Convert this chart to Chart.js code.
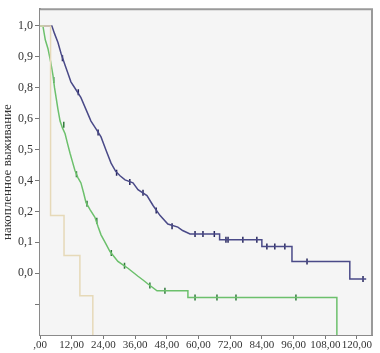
<!DOCTYPE html>
<html lang="ru">
<head>
    <meta charset="UTF-8">
    <title>Накопленное выживание</title>
    <script src="https://cdn.jsdelivr.net/npm/chart.js"></script>
    <style>
        html, body { margin: 0; padding: 0; background: #fff; }
    </style>
</head>
<body>
    <canvas id="survivalChart" width="380" height="353"></canvas>

    <script>
        // x axis: months; y values are positions on the (oddly labelled) axis, 0..1
        const xTicks = [0, 12, 24, 36, 48, 60, 72, 84, 96, 108, 120];
        const xTickLabels = [',00', '12,00', '24,00', '36,00', '48,00', '60,00', '72,00', '84,00', '96,00', '108,00', '120,00'];
        const yTicks = [0.1, 0.2, 0.3, 0.4, 0.5, 0.6, 0.7, 0.8, 0.9, 1.0];
        const yTickLabels = ['', '0,0', '0,1', '0,2', '0,4', '0,5', '0,6', '0,8', '0,9', '1,0'];

        // blue group (repeated times = vertical drop on the plateaus)
        const blueT = [0, 4.5, 5.5, 6.8, 8.0, 9.5, 10.6, 11.7, 13.5, 15.5, 17.4, 19.3, 21.2, 23.1, 25.0, 26.9, 28.6, 30.3, 32.2, 35.2, 37.1, 40.5, 42.8, 45.4, 48.4, 52.2, 54.0, 56.8, 68.0, 68.0, 84.0, 84.0, 95.4, 95.4, 117.3, 117.3, 123.5];
        const blueV = [1.0, 1.0, 0.975, 0.946, 0.91, 0.873, 0.846, 0.819, 0.795, 0.768, 0.73, 0.692, 0.667, 0.641, 0.598, 0.556, 0.53, 0.515, 0.502, 0.492, 0.47, 0.451, 0.419, 0.387, 0.359, 0.349, 0.338, 0.327, 0.327, 0.308, 0.308, 0.286, 0.286, 0.238, 0.238, 0.181, 0.181];
        const blueCensT = [8.5, 14.5, 22, 29, 34, 39, 44, 50, 58.7, 61.7, 66.0, 70.4, 71.2, 76.8, 82.1, 85.9, 88.9, 92.7, 101.1, 122.3];
        const blueCensV = [0.895, 0.785, 0.655, 0.525, 0.495, 0.46, 0.403, 0.352, 0.327, 0.327, 0.327, 0.308, 0.308, 0.308, 0.308, 0.286, 0.286, 0.286, 0.238, 0.181];

        // green group
        const greenT = [0, 1.1, 2.0, 3.0, 4.0, 4.9, 5.5, 6.1, 6.8, 7.6, 8.5, 9.5, 10.4, 11.4, 12.3, 13.2, 14.3, 15.5, 16.5, 17.4, 19.0, 20.8, 22.0, 23.1, 24.8, 26.5, 28.0, 29.5, 31.4, 33.3, 35.2, 37.1, 39.0, 40.9, 44.3, 56.0, 56.0, 112.4, 112.4];
        const greenV = [1.0, 1.0, 0.955, 0.927, 0.885, 0.841, 0.80, 0.768, 0.73, 0.692, 0.67, 0.651, 0.62, 0.587, 0.56, 0.533, 0.51, 0.492, 0.46, 0.429, 0.405, 0.381, 0.35, 0.324, 0.297, 0.27, 0.254, 0.238, 0.227, 0.216, 0.203, 0.19, 0.178, 0.165, 0.143, 0.143, 0.121, 0.121, 0.0];
        const greenCensT = [5.2, 9.0, 13.8, 17.8, 21.5, 27, 32, 41.6, 47.3, 58.7, 67.0, 74.2, 96.9];
        const greenCensV = [0.825, 0.68, 0.52, 0.425, 0.37, 0.265, 0.224, 0.16, 0.143, 0.121, 0.121, 0.121, 0.121];

        // pale group
        const paleT = [0, 4.0, 4.0, 9.1, 9.1, 15.1, 15.1, 20.0, 20.0];
        const paleV = [1.0, 1.0, 0.387, 0.387, 0.257, 0.257, 0.127, 0.127, 0.0];

        const pts = (t, v) => t.map((x, i) => ({ x: x, y: v[i] }));

        // grey panel background plus top/right frame
        const framePlugin = {
            id: 'frame',
            beforeDatasetsDraw(chart) {
                const { ctx, chartArea: a } = chart;
                ctx.save();
                ctx.fillStyle = '#f5f5f5';
                ctx.fillRect(a.left, a.top, a.right - a.left, a.bottom - a.top);
                ctx.restore();
            },
            afterDraw(chart) {
                const { ctx, chartArea: a } = chart;
                ctx.save();
                ctx.strokeStyle = '#9a9a9a';
                ctx.lineWidth = 2;
                ctx.beginPath();
                ctx.moveTo(a.left, a.top);
                ctx.lineTo(a.right, a.top);
                ctx.lineTo(a.right, a.bottom);
                ctx.stroke();
                ctx.restore();
            }
        };

        const censorStyle = {
            type: 'scatter',
            pointStyle: 'line',
            rotation: 90,
            pointRadius: 3,
            pointBorderWidth: 1.5
        };

        new Chart(document.getElementById('survivalChart').getContext('2d'), {
            type: 'line',
            data: {
                datasets: [
                    { label: 'pale', data: pts(paleT, paleV), borderColor: '#e6d9b8', borderWidth: 1.5, pointRadius: 0 },
                    { label: 'green', data: pts(greenT, greenV), borderColor: '#6cc06c', borderWidth: 1.5, pointRadius: 0 },
                    { label: 'blue', data: pts(blueT, blueV), borderColor: '#4a4a88', borderWidth: 1.5, pointRadius: 0 },
                    Object.assign({ label: 'green cens', data: pts(greenCensT, greenCensV), borderColor: '#2f7a3a', backgroundColor: '#2f7a3a' }, censorStyle),
                    Object.assign({ label: 'blue cens', data: pts(blueCensT, blueCensV), borderColor: '#26265e', backgroundColor: '#26265e' }, censorStyle)
                ]
            },
            options: {
                responsive: false,
                animation: false,
                layout: { padding: { top: 3, right: 8, left: 0, bottom: 0 } },
                plugins: { legend: { display: false }, tooltip: { enabled: false } },
                scales: {
                    x: {
                        type: 'linear',
                        min: 0,
                        max: 125.7,
                        afterBuildTicks: s => { s.ticks = xTicks.map(v => ({ value: v })); },
                        afterFit: s => { s.height = 18; },
                        ticks: {
                            autoSkip: false,
                            maxRotation: 0,
                            padding: 0,
                            color: '#333',
                            font: { family: 'Liberation Serif', size: 11 },
                            callback: (v, i) => xTickLabels[i]
                        },
                        grid: { drawOnChartArea: false, tickLength: 4, color: '#777' },
                        border: { color: '#8a8a8a', width: 2 }
                    },
                    y: {
                        type: 'linear',
                        min: 0,
                        max: 1.054,
                        afterBuildTicks: s => { s.ticks = yTicks.map(v => ({ value: v })); },
                        afterFit: s => { s.width = 40; },
                        ticks: {
                            padding: 2,
                            color: '#333',
                            font: { family: 'Liberation Serif', size: 12 },
                            callback: (v, i) => yTickLabels[i]
                        },
                        grid: { drawOnChartArea: false, tickLength: 5, color: '#777' },
                        border: { color: '#8a8a8a', width: 2 },
                        title: {
                            display: true,
                            text: 'накопленное выживание',
                            color: '#333',
                            padding: { top: 0, bottom: 0 },
                            font: { family: 'Liberation Serif', size: 13 }
                        }
                    }
                }
            },
            plugins: [framePlugin]
        });
    </script>
</body>
</html>
